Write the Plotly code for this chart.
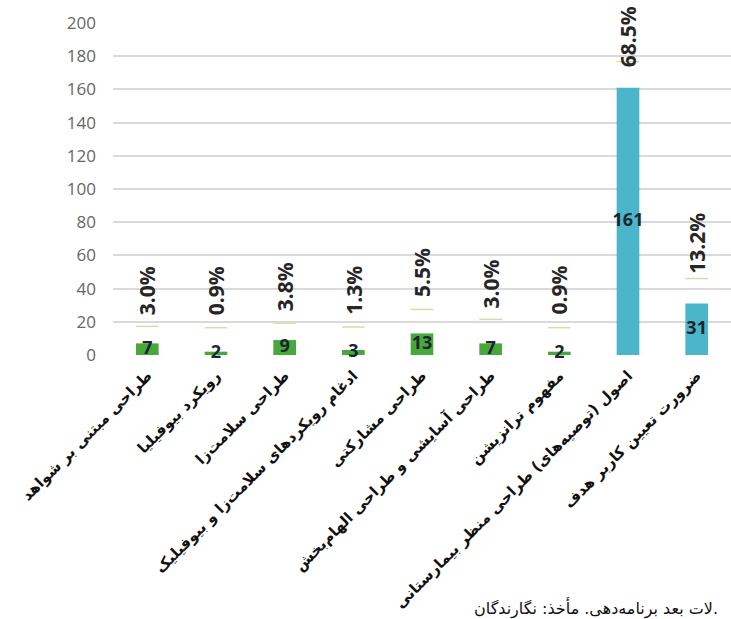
import plotly.graph_objects as go

categories = [
    "طراحی مبتنی بر شواهد",
    "رویکرد بیوفیلیا",
    "طراحی سلامت‌زا",
    "ادغام رویکردهای سلامت‌زا و بیوفیلیک",
    "طراحی مشارکتی",
    "طراحی آسایشی و طراحی الهام‌بخش",
    "مفهوم ترانزیشن",
    "اصول (توصیه‌های) طراحی منظر بیمارستانی",
    "ضرورت تعیین کاربر هدف",
]
counts = [7, 2, 9, 3, 13, 7, 2, 161, 31]
percents = ["3.0%", "0.9%", "3.8%", "1.3%", "5.5%", "3.0%", "0.9%", "68.5%", "13.2%"]
groups = ["g", "g", "g", "g", "g", "g", "g", "t", "t"]
caption = "لات بعد برنامه‌دهی. مأخذ: نگارندگان."

# style: pixel offsets (above each bar top) of the percent label leader and text
line_shift = [17, 24, 17, 23, 24, 24, 24, 26, 25]
text_shift = [26, 34, 27, 33, 34, 33, 35, 18, 28]

GREEN = "#47a93c"
TEAL = "#4bb6c9"
colors = [GREEN if g == "g" else TEAL for g in groups]
x = list(range(len(categories)))

fig = go.Figure()
fig.add_trace(go.Bar(
    x=x, y=counts, marker=dict(color=colors, line=dict(width=0)),
    width=0.33, hoverinfo="skip", showlegend=False,
))
fig.add_trace(go.Scatter(
    x=x, y=[c / 2 for c in counts], mode="text",
    text=[str(c) for c in counts],
    textfont=dict(family="Open Sans", size=18, color="#1c2530", weight="bold"),
    textposition="middle center", showlegend=False, hoverinfo="skip",
    cliponaxis=False,
))

for i, (c, p) in enumerate(zip(counts, percents)):
    fig.add_shape(type="line", xref="x", yref="y", ysizemode="pixel",
                  yanchor=c, x0=i - 0.165, x1=i + 0.165,
                  y0=line_shift[i], y1=line_shift[i],
                  line=dict(color="#d8dca6", width=1.5))
    fig.add_annotation(x=i, y=c, xref="x", yref="y", text=p, showarrow=False,
                       textangle=-90, yanchor="bottom", xanchor="center",
                       yshift=text_shift[i],
                       font=dict(family="Open Sans", size=21, color="#262626", weight="bold"))

fig.add_annotation(x=(720 - 113) / 618, y=(355 - 608) / 332, xref="paper", yref="paper",
                   text=caption, showarrow=False, xanchor="right", yanchor="middle",
                   font=dict(family="DejaVu Sans", size=16, color="#111111"))

fig.update_layout(
    width=731, height=619,
    margin=dict(l=113, r=0, t=23, b=264, autoexpand=False),
    paper_bgcolor="white", plot_bgcolor="white",
    xaxis=dict(range=[-0.5, 8.5], tickmode="array", tickvals=x, ticktext=categories,
               tickangle=-45, showgrid=False, zeroline=False, showline=False,
               ticks="", automargin=False, ticklabelstandoff=8,
               tickfont=dict(family="DejaVu Sans", size=15, color="#111111", weight="bold")),
    yaxis=dict(range=[0, 200], tickvals=list(range(0, 201, 20)),
               showgrid=True, gridcolor="#d9d9d9", gridwidth=1.5,
               zeroline=False, showline=False, ticks="", automargin=False,
               ticklabelstandoff=16,
               tickfont=dict(family="Open Sans", size=17, color="#666666")),
)

fig.write_html("out.html")
